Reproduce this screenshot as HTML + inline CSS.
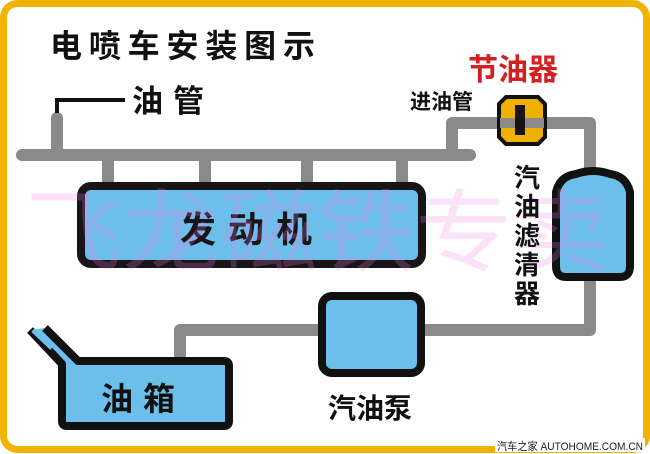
<!DOCTYPE html>
<html><head><meta charset="utf-8"><style>
html,body{margin:0;padding:0;background:#fff}
svg{display:block}
text{font-family:"Liberation Sans","Noto Sans CJK SC",sans-serif;font-weight:bold}
</style></head><body>
<svg width="650" height="454" viewBox="0 0 650 454" xmlns="http://www.w3.org/2000/svg">
<rect x="0" y="0" width="650" height="454" fill="#fff"/>
<rect x="3.5" y="3.5" width="643" height="446" rx="14" fill="#fff" stroke="#f0b400" stroke-width="7"/>
<g stroke="#8a8a8a" stroke-width="12" fill="none" stroke-linecap="round" stroke-linejoin="round">
<line x1="22" y1="155" x2="470" y2="155"/>
<line x1="57" y1="118" x2="57" y2="155"/>
<line x1="108" y1="155" x2="108" y2="186"/>
<line x1="205" y1="155" x2="205" y2="186"/>
<line x1="307" y1="155" x2="307" y2="186"/>
<line x1="402" y1="155" x2="402" y2="186"/>
<polyline points="452,155 452,123 590,123 590,175"/>
<polyline points="590,278 590,330 420,330"/>
<polyline points="320,330 180,330 180,365"/>
</g>
<polyline points="57,113 57,100 125,100" fill="none" stroke="#111" stroke-width="4"/>
<rect x="81" y="186" width="341" height="78" rx="10" fill="#6cbfea" stroke="#1a1418" stroke-width="8"/>
<text x="252" y="242" font-size="36" fill="#1a1418" text-anchor="middle" letter-spacing="12">发动机</text>
<path d="M506,97 H538 L545,104 V137 L538,144 H506 L499,137 V104 Z" fill="#f0b000" stroke="#111" stroke-width="4"/>
<line x1="500" y1="123" x2="544" y2="123" stroke="#8a8a8a" stroke-width="10"/>
<rect x="515" y="105" width="10" height="30" fill="#1a1418"/>
<path d="M556,192 Q560,176 576,174 Q593,168 610,174 Q626,176 630,192 V266 Q630,277 620,277 H566 Q556,277 556,266 Z" fill="#6cbfea" stroke="#111" stroke-width="8" stroke-linejoin="round"/>
<rect x="322" y="296" width="99" height="77" rx="10" fill="#6cbfea" stroke="#111" stroke-width="8"/>
<path d="M30,330 L62,364 V421 Q62,426 67,426 H224 Q229,426 229,421 V366 Q229,361 224,361 H78 L45,328" fill="#6cbfea" stroke="#111" stroke-width="8" stroke-linejoin="round"/>
<line x1="33" y1="330" x2="52" y2="348" stroke="#6cbfea" stroke-width="5"/>
<text x="143" y="410" font-size="32" fill="#111" text-anchor="middle" letter-spacing="10">油箱</text>
<text x="25" y="264" font-size="90" fill="#f080e8" opacity="0.22" style="font-weight:normal" textLength="585" lengthAdjust="spacingAndGlyphs">飞龙磁铁专卖</text>
<text x="50" y="57" font-size="32" fill="#111" textLength="265" lengthAdjust="spacing">电喷车安装图示</text>
<text x="132" y="112" font-size="31" fill="#111" letter-spacing="10">油管</text>
<text x="468" y="80" font-size="30" fill="#d42020">节油器</text>
<text x="410" y="109" font-size="21" fill="#111">进油管</text>
<g font-size="26" fill="#111" text-anchor="middle">
<text x="527" y="187">汽</text>
<text x="527" y="216">油</text>
<text x="527" y="245">滤</text>
<text x="527" y="274">清</text>
<text x="527" y="303">器</text>
</g>
<text x="370" y="418" font-size="28" fill="#111" text-anchor="middle">汽油泵</text>
<rect x="495" y="438" width="150" height="14" fill="#fff"/>
<text x="497" y="450" font-size="11" fill="#222" style="font-weight:normal" textLength="146" lengthAdjust="spacingAndGlyphs">汽车之家 AUTOHOME.COM.CN</text>
</svg>
</body></html>
